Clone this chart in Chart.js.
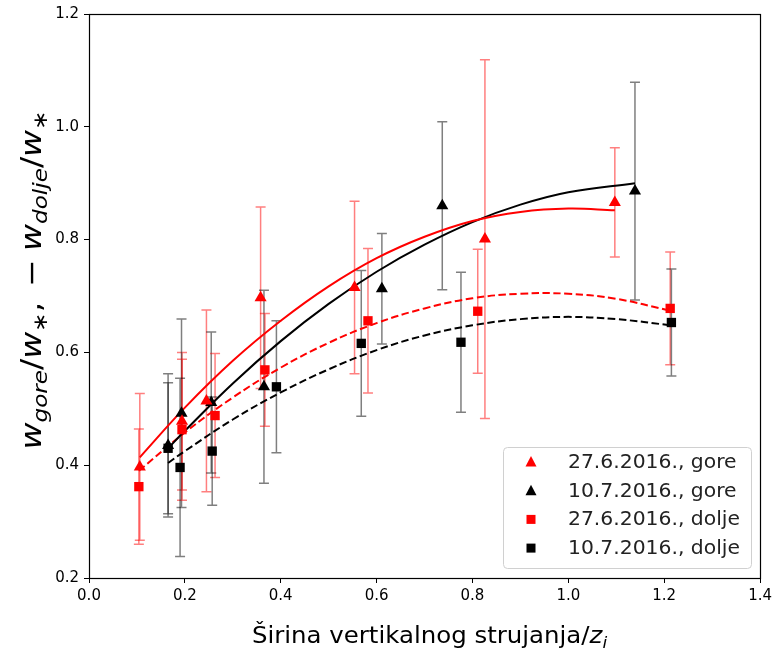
<!DOCTYPE html>
<html>
<head>
<meta charset="utf-8">
<script src="https://cdn.jsdelivr.net/npm/chart.js@4.4.1/dist/chart.umd.min.js"></script>
<style>
  html, body { margin: 0; padding: 0; background: #ffffff; }
  #wrap { width: 776px; height: 651px; position: relative; }
</style>
</head>
<body>
<div id="wrap"><canvas id="c"></canvas></div>
<script>
// ---- data ----
const seriesLabels = ['27.6.2016., gore', '10.7.2016., gore', '27.6.2016., dolje', '10.7.2016., dolje'];

const xRedGore   = [0.106, 0.194, 0.245, 0.358, 0.554, 0.826, 1.097];
const yRedGore   = [0.397, 0.478, 0.514, 0.697, 0.715, 0.801, 0.866];
const eRedGore   = [0.130, 0.122, 0.161, 0.161, 0.153, 0.318, 0.097];

const xBlackGore = [0.165, 0.193, 0.255, 0.365, 0.611, 0.737, 1.139];
const yBlackGore = [0.435, 0.492, 0.511, 0.539, 0.713, 0.860, 0.886];
const eBlackGore = [0.127, 0.167, 0.125, 0.171, 0.098, 0.149, 0.193];

const xRedDolje  = [0.104, 0.194, 0.263, 0.367, 0.582, 0.811, 1.2125];
const yRedDolje  = [0.362, 0.463, 0.488, 0.569, 0.656, 0.673, 0.678];
const eRedDolje  = [0.102, 0.125, 0.110, 0.100, 0.128, 0.110, 0.100];

const xBlackDolje = [0.165, 0.190, 0.257, 0.391, 0.568, 0.776, 1.215];
const yBlackDolje = [0.430, 0.396, 0.425, 0.539, 0.616, 0.618, 0.653];
const eBlackDolje = [0.116, 0.158, 0.096, 0.117, 0.129, 0.124, 0.095];

// fitted curves, points
const xFitRedGore   = [0.106, 0.2, 0.3, 0.4, 0.5, 0.6, 0.7, 0.8, 0.9, 1.0, 1.097];
const yFitRedGore   = [0.414, 0.502, 0.585, 0.656, 0.717, 0.767, 0.805, 0.833, 0.849, 0.855, 0.852];
const xFitBlackGore = [0.165, 0.2, 0.3, 0.4, 0.5, 0.6, 0.7, 0.8, 0.9, 1.0, 1.139];
const yFitBlackGore = [0.430, 0.461, 0.545, 0.620, 0.686, 0.743, 0.791, 0.831, 0.862, 0.884, 0.900];
const xFitRedDolje  = [0.104, 0.2, 0.3, 0.4, 0.5, 0.6, 0.7, 0.8, 0.9, 1.0, 1.1, 1.2125];
const yFitRedDolje  = [0.390, 0.458, 0.520, 0.573, 0.617, 0.652, 0.678, 0.696, 0.704, 0.704, 0.695, 0.674];
const xFitBlackDolje = [0.165, 0.2, 0.3, 0.4, 0.5, 0.6, 0.7, 0.8, 0.9, 1.0, 1.1, 1.215];
const yFitBlackDolje = [0.404, 0.425, 0.481, 0.529, 0.570, 0.604, 0.630, 0.648, 0.659, 0.663, 0.659, 0.648];

const xTicks = [0.0, 0.2, 0.4, 0.6, 0.8, 1.0, 1.2, 1.4];
const yTicks = [0.2, 0.4, 0.6, 0.8, 1.0, 1.2];

// ---- helpers ----
const pts = (xs, ys) => xs.map((x, i) => ({ x: x, y: ys[i] }));
const RED = '#ff0000', BLACK = '#000000';
const FONT = "'DejaVu Sans', 'Liberation Sans', sans-serif";

function markerSet(label, xs, ys, es, color, style, radius) {
  return {
    label: label, data: pts(xs, ys), yErr: es, isMarker: true,
    pointStyle: style, pointRadius: radius, pointHoverRadius: radius,
    backgroundColor: color, borderColor: color, borderWidth: 0,
    showLine: false, order: 0,
    errColor: color === RED ? 'rgba(255,0,0,0.5)' : 'rgba(0,0,0,0.5)'
  };
}
function fitSet(xs, ys, color, dashed) {
  return {
    label: '', data: pts(xs, ys), showLine: true, isFit: true,
    borderColor: color, backgroundColor: color, borderWidth: 2,
    borderDash: dashed ? [7.5, 3.5] : [], pointRadius: 0, pointHoverRadius: 0,
    tension: 0.4, fill: false, order: 1
  };
}

// error bars (drawn under lines & markers)
const errorBars = {
  id: 'errorBars',
  beforeDatasetsDraw(chart) {
    const ctx = chart.ctx, xs = chart.scales.x, ys = chart.scales.y;
    ctx.save();
    chart.data.datasets.forEach(ds => {
      if (!ds.isMarker) return;
      ctx.strokeStyle = ds.errColor;
      ctx.lineWidth = 1.5;
      ds.data.forEach((p, i) => {
        const e = ds.yErr[i];
        const px = xs.getPixelForValue(p.x);
        const y1 = ys.getPixelForValue(p.y + e), y2 = ys.getPixelForValue(p.y - e);
        ctx.beginPath();
        ctx.moveTo(px, y1); ctx.lineTo(px, y2);
        ctx.moveTo(px - 5, y1); ctx.lineTo(px + 5, y1);
        ctx.moveTo(px - 5, y2); ctx.lineTo(px + 5, y2);
        ctx.stroke();
      });
    });
    ctx.restore();
  }
};

// draw a run of text pieces (math style)
function runFont(r, size) {
  const s = r.sub ? size * 0.7 : size;
  return (r.it ? 'italic ' : '') + s + 'px ' + FONT;
}
function runsWidth(ctx, runs, size) {
  let w = 0;
  runs.forEach(r => { ctx.font = runFont(r, size); w += ctx.measureText(r.t).width + (r.gap || 0) * size; });
  return w;
}
function drawRuns(ctx, runs, size, x0, yBase) {
  let x = x0;
  runs.forEach(r => {
    ctx.font = runFont(r, size);
    ctx.fillText(r.t, x, yBase + (r.sub ? size * 0.22 : 0));
    x += ctx.measureText(r.t).width + (r.gap || 0) * size;
  });
}

const yTitleRuns = [
  { t: 'w', it: 1 }, { t: 'gore', it: 1, sub: 1 }, { t: '/' }, { t: 'w', it: 1 }, { t: '\u2217', sub: 1 },
  { t: ',', gap: 0.45 }, { t: '\u2212', gap: 0.25 }, { t: 'w', it: 1 }, { t: 'dolje', it: 1, sub: 1 }, { t: '/' },
  { t: 'w', it: 1 }, { t: '\u2217', sub: 1 }
];
const xTitleRuns = [
  { t: '\u0160irina vertikalnog strujanja/' }, { t: 'z', it: 1 }, { t: 'i', it: 1, sub: 1 }
];

const decor = {
  id: 'decor',
  beforeDraw(chart) {
    const ctx = chart.ctx;
    ctx.save(); ctx.fillStyle = '#ffffff';
    ctx.fillRect(0, 0, chart.width, chart.height); ctx.restore();
  },
  afterDraw(chart) {
    const ctx = chart.ctx, a = chart.chartArea;
    ctx.save();
    // frame
    ctx.strokeStyle = '#000'; ctx.lineWidth = 1.2;
    ctx.strokeRect(Math.round(a.left) + 0.5, Math.round(a.top) + 0.5,
                   Math.round(a.right - a.left), Math.round(a.bottom - a.top));
    ctx.fillStyle = '#000'; ctx.textBaseline = 'alphabetic'; ctx.textAlign = 'left';
    // x title
    ctx.save();
    const xs = 23.5, sx = 1.04;
    const wx = runsWidth(ctx, xTitleRuns, xs) * sx;
    ctx.translate((a.left + a.right) / 2 + 5 - wx / 2, 643);
    ctx.scale(sx, 1);
    drawRuns(ctx, xTitleRuns, xs, 0, 0);
    ctx.restore();
    // y title
    ctx.save();
    const ysz = 28.5, ystretch = 1.16;
    ctx.translate(41, 280);
    ctx.rotate(-Math.PI / 2);
    ctx.scale(ystretch, 1);
    const wy = runsWidth(ctx, yTitleRuns, ysz);
    drawRuns(ctx, yTitleRuns, ysz, -wy / 2, 0);
    ctx.restore();
    ctx.restore();

    // legend
    ctx.save();
    const L = 503, T = 447, W = 248, H = 121;
    ctx.fillStyle = 'rgba(255,255,255,0.85)';
    ctx.strokeStyle = '#d0d0d0'; ctx.lineWidth = 1;
    ctx.beginPath(); ctx.roundRect(L + 0.5, T + 0.5, W, H, 4); ctx.fill(); ctx.stroke();
    const rows = chart.data.datasets.filter(d => d.isMarker);
    ctx.textBaseline = 'middle'; ctx.textAlign = 'left';
    rows.forEach((d, i) => {
      const cy = T + 15 + i * 28.7, cx = 531;
      ctx.fillStyle = d.backgroundColor;
      ctx.beginPath();
      if (d.pointStyle === 'triangle') {
        ctx.moveTo(cx, cy - 6); ctx.lineTo(cx + 5.5, cy + 4.5); ctx.lineTo(cx - 5.5, cy + 4.5);
        ctx.closePath(); ctx.fill();
      } else {
        ctx.fillRect(cx - 4.5, cy - 4.5, 9, 9);
      }
      ctx.save();
      ctx.fillStyle = '#222';
      ctx.font = '19px ' + FONT;
      ctx.translate(568, cy + 1);
      ctx.scale(1.07, 1);
      ctx.fillText(d.label, 0, 0);
      ctx.restore();
    });
    ctx.restore();
  }
};

const tickFont = { family: FONT, size: 15 };

new Chart(document.getElementById('c'), {
  type: 'scatter',
  data: {
    datasets: [
      markerSet(seriesLabels[0], xRedGore, yRedGore, eRedGore, RED, 'triangle', 7),
      markerSet(seriesLabels[1], xBlackGore, yBlackGore, eBlackGore, BLACK, 'triangle', 7),
      markerSet(seriesLabels[2], xRedDolje, yRedDolje, eRedDolje, RED, 'rect', 6.6),
      markerSet(seriesLabels[3], xBlackDolje, yBlackDolje, eBlackDolje, BLACK, 'rect', 6.6),
      fitSet(xFitRedGore, yFitRedGore, RED, false),
      fitSet(xFitBlackGore, yFitBlackGore, BLACK, false),
      fitSet(xFitRedDolje, yFitRedDolje, RED, true),
      fitSet(xFitBlackDolje, yFitBlackDolje, BLACK, true)
    ]
  },
  options: {
    responsive: true, maintainAspectRatio: false, animation: false,
    layout: { padding: { left: 0, right: 15, top: 12, bottom: 0 } },
    plugins: { legend: { display: false }, tooltip: { enabled: false } },
    scales: {
      x: {
        type: 'linear', min: 0, max: 1.4,
        afterBuildTicks: s => { s.ticks = xTicks.map(v => ({ value: v })); },
        afterFit: s => { s.height = 73; },
        ticks: { color: '#000', font: tickFont, padding: 4, maxRotation: 0,
                 callback: v => Number(v).toFixed(1) },
        grid: { display: true, drawOnChartArea: false, drawTicks: true, tickLength: 5, color: '#000', tickWidth: 1 },
        border: { display: true, color: '#000', width: 1 }
      },
      y: {
        type: 'linear', min: 0.2, max: 1.2,
        afterBuildTicks: s => { s.ticks = yTicks.map(v => ({ value: v })); },
        afterFit: s => { s.width = 89; },
        ticks: { color: '#000', font: tickFont, padding: 5,
                 callback: v => Number(v).toFixed(1) },
        grid: { display: true, drawOnChartArea: false, drawTicks: true, tickLength: 5, color: '#000', tickWidth: 1 },
        border: { display: true, color: '#000', width: 1 }
      }
    }
  },
  plugins: [errorBars, decor]
});
</script>
</body>
</html>
